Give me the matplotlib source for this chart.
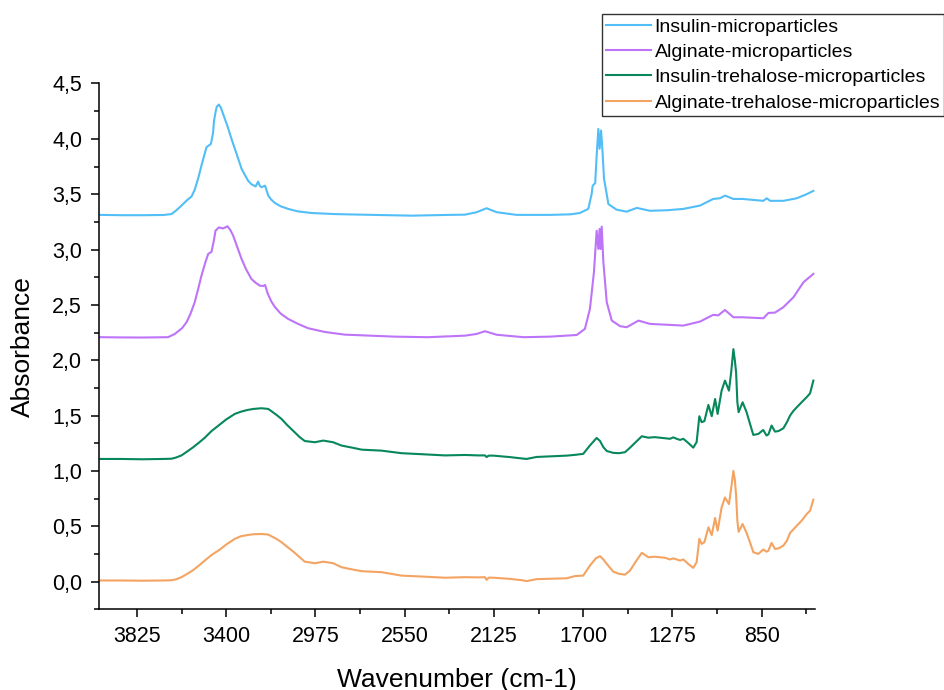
import matplotlib
matplotlib.use("Agg")
import matplotlib.pyplot as plt
from matplotlib.ticker import MultipleLocator, FuncFormatter

plt.rcParams["font.family"] = ["Liberation Sans", "DejaVu Sans"]

# FTIR spectra, stacked with a fixed vertical offset per sample
labels = [
    "Insulin-microparticles",
    "Alginate-microparticles",
    "Insulin-trehalose-microparticles",
    "Alginate-trehalose-microparticles",
]
colors = ["#52BEF8", "#BD74F8", "#07875A", "#F4A462"]

wn_ins = [4000, 3900, 3800, 3700, 3661, 3640, 3613, 3590, 3565, 3550, 3534, 3515, 3494, 3473,
          3463, 3458, 3450, 3445, 3435, 3425, 3415, 3395, 3375, 3350, 3327, 3310, 3296, 3280,
          3260, 3248, 3240, 3232, 3215, 3200, 3185, 3168, 3140, 3105, 3060, 2994, 2880,
          2755, 2517, 2335, 2263, 2208, 2160, 2112, 2017, 1858, 1760, 1716, 1676, 1660,
          1655, 1643, 1636, 1628, 1622, 1615, 1609, 1601, 1580, 1541, 1493, 1445, 1382,
          1300, 1223, 1144, 1081, 1049, 1025, 985, 942, 842, 826, 810, 747, 683, 636, 604]
ab_ins = [3.313, 3.310, 3.310, 3.312, 3.320, 3.350, 3.397, 3.440, 3.480, 3.540, 3.640, 3.780,
          3.924, 3.954, 4.050, 4.165, 4.250, 4.290, 4.310, 4.280, 4.225, 4.120, 4.000, 3.860,
          3.730, 3.670, 3.622, 3.590, 3.570, 3.613, 3.575, 3.563, 3.577, 3.487, 3.450, 3.420,
          3.390, 3.367, 3.345, 3.330, 3.320, 3.315, 3.306, 3.313, 3.315, 3.337, 3.373, 3.337,
          3.313, 3.313, 3.318, 3.330, 3.367, 3.500, 3.577, 3.600, 3.850, 4.090, 3.910, 4.075,
          3.910, 3.640, 3.410, 3.360, 3.342, 3.376, 3.350, 3.355, 3.367, 3.397, 3.457, 3.463,
          3.487, 3.457, 3.457, 3.440, 3.463, 3.440, 3.440, 3.463, 3.500, 3.530]

wn_alg = [4000, 3900, 3800, 3677, 3645, 3610, 3589, 3570, 3550, 3534, 3518, 3500, 3486, 3470,
          3460, 3451, 3435, 3415, 3394, 3380, 3367, 3347, 3327, 3305, 3280, 3260, 3240, 3224,
          3215, 3202, 3185, 3168, 3140, 3105, 3060, 3010, 2930, 2835, 2597, 2438, 2263,
          2208, 2168, 2112, 1985, 1858, 1731, 1692, 1668, 1649, 1636, 1628, 1622, 1617, 1612,
          1604, 1588, 1564, 1524, 1493, 1437, 1382, 1223, 1144, 1081, 1057, 1025, 985, 942,
          842, 818, 787, 747, 699, 651, 604]
ab_alg = [2.208, 2.206, 2.205, 2.208, 2.237, 2.290, 2.343, 2.420, 2.524, 2.640, 2.764, 2.880,
          2.960, 2.980, 3.070, 3.170, 3.200, 3.190, 3.210, 3.175, 3.126, 3.020, 2.915, 2.820,
          2.734, 2.700, 2.674, 2.670, 2.680, 2.600, 2.530, 2.480, 2.420, 2.373, 2.330, 2.289,
          2.255, 2.231, 2.213, 2.208, 2.222, 2.237, 2.262, 2.230, 2.208, 2.213, 2.228, 2.283,
          2.464, 2.795, 3.170, 3.005, 3.186, 3.005, 3.207, 2.885, 2.524, 2.358, 2.307, 2.298,
          2.358, 2.328, 2.313, 2.349, 2.410, 2.405, 2.454, 2.388, 2.388, 2.379, 2.427, 2.430,
          2.479, 2.569, 2.705, 2.780]

wn_ins_tre = [4000, 3900, 3800, 3700, 3661, 3640, 3613, 3590, 3560, 3530, 3502, 3470, 3430,
              3400, 3359, 3330, 3300, 3270, 3232, 3200, 3185, 3160, 3137, 3110, 3080, 3050,
              3026, 2978, 2938, 2891, 2851, 2800, 2755, 2660, 2565, 2460, 2359, 2263, 2200,
              2168, 2160, 2150, 2128, 2050, 1990, 1970, 1922, 1850, 1779, 1739, 1700, 1668,
              1636, 1620, 1604, 1588, 1557, 1530, 1501, 1477, 1450, 1421, 1390, 1360, 1334,
              1310, 1287, 1271, 1255, 1239, 1223, 1200, 1176, 1160, 1147, 1136, 1123, 1104,
              1088, 1072, 1060, 1041, 1025, 1006, 995, 985, 978, 972, 966, 960, 941, 922, 905,
              890, 866, 843, 827, 818, 803, 787, 770, 747, 730, 715, 700, 683, 660, 636, 620,
              604]
ab_ins_tre = [1.108, 1.108, 1.105, 1.108, 1.110, 1.120, 1.140, 1.170, 1.210, 1.255, 1.300,
              1.360, 1.420, 1.465, 1.515, 1.535, 1.550, 1.560, 1.566, 1.560, 1.540, 1.505,
              1.470, 1.415, 1.360, 1.305, 1.270, 1.259, 1.274, 1.259, 1.229, 1.210, 1.192,
              1.183, 1.160, 1.150, 1.140, 1.144, 1.140, 1.140, 1.125, 1.138, 1.138, 1.125,
              1.112, 1.108, 1.126, 1.132, 1.138, 1.145, 1.154, 1.230, 1.298, 1.270, 1.214,
              1.180, 1.163, 1.160, 1.169, 1.210, 1.260, 1.313, 1.300, 1.305, 1.300, 1.295,
              1.290, 1.303, 1.290, 1.280, 1.290, 1.253, 1.210, 1.260, 1.494, 1.440, 1.450,
              1.596, 1.494, 1.650, 1.515, 1.725, 1.816, 1.725, 1.900, 2.100, 2.000, 1.890,
              1.620, 1.530, 1.620, 1.530, 1.420, 1.325, 1.334, 1.370, 1.320, 1.330, 1.410,
              1.355, 1.360, 1.385, 1.440, 1.500, 1.540, 1.575, 1.620, 1.666, 1.700, 1.816]

wn_alg_tre = [4000, 3900, 3800, 3700, 3661, 3640, 3613, 3590, 3560, 3530, 3502, 3470, 3430,
              3400, 3359, 3330, 3300, 3270, 3232, 3200, 3185, 3160, 3137, 3110, 3080, 3050,
              3026, 2978, 2938, 2891, 2851, 2800, 2755, 2660, 2565, 2460, 2359, 2263, 2200,
              2168, 2160, 2150, 2128, 2050, 1990, 1970, 1922, 1850, 1779, 1739, 1700, 1668,
              1640, 1620, 1604, 1588, 1557, 1530, 1501, 1477, 1450, 1421, 1390, 1360, 1334,
              1310, 1287, 1271, 1255, 1239, 1223, 1200, 1176, 1160, 1147, 1136, 1123, 1104,
              1088, 1072, 1060, 1041, 1025, 1006, 995, 985, 978, 972, 966, 960, 941, 922, 905,
              890, 866, 843, 827, 818, 803, 787, 770, 747, 730, 715, 700, 683, 660, 636, 620,
              604]
ab_alg_tre = [0.010, 0.010, 0.008, 0.010, 0.012, 0.020, 0.040, 0.065, 0.100, 0.145, 0.190,
              0.240, 0.290, 0.335, 0.386, 0.410, 0.420, 0.428, 0.430, 0.425, 0.410, 0.385,
              0.356, 0.315, 0.270, 0.220, 0.180, 0.166, 0.180, 0.166, 0.130, 0.110, 0.094,
              0.085, 0.054, 0.045, 0.035, 0.040, 0.038, 0.040, 0.015, 0.036, 0.035, 0.025,
              0.012, 0.004, 0.022, 0.026, 0.030, 0.050, 0.054, 0.145, 0.210, 0.230, 0.200,
              0.160, 0.090, 0.070, 0.063, 0.100, 0.180, 0.260, 0.220, 0.225, 0.220, 0.215,
              0.200, 0.210, 0.200, 0.190, 0.200, 0.160, 0.124, 0.175, 0.386, 0.340, 0.356,
              0.490, 0.420, 0.575, 0.460, 0.670, 0.760, 0.700, 0.850, 1.000, 0.920, 0.780,
              0.550, 0.450, 0.520, 0.440, 0.350, 0.265, 0.250, 0.290, 0.270, 0.280, 0.350,
              0.295, 0.300, 0.325, 0.370, 0.440, 0.470, 0.505, 0.550, 0.610, 0.640, 0.740]

spectra = [(wn_ins, ab_ins), (wn_alg, ab_alg), (wn_ins_tre, ab_ins_tre), (wn_alg_tre, ab_alg_tre)]

fig = plt.figure(figsize=(9.45, 6.9), dpi=100)
ax = fig.add_axes([0.1045, 0.117, 0.758, 0.762])

for (x, y), c, lab in zip(spectra, colors, labels):
    ax.plot(x, y, color=c, lw=1.5, label=lab, solid_joinstyle="round")

ax.set_xlim(4007, 596)
ax.set_ylim(-0.25, 4.5)
ax.xaxis.set_major_locator(MultipleLocator(425))
ax.xaxis.set_minor_locator(MultipleLocator(212.5))
ax.yaxis.set_major_locator(MultipleLocator(0.5))
ax.yaxis.set_minor_locator(MultipleLocator(0.25))
ax.yaxis.set_major_formatter(FuncFormatter(lambda v, _: f"{v:.1f}".replace(".", ",")))
ax.xaxis.set_major_formatter(FuncFormatter(lambda v, _: f"{v:.0f}"))

for s in ["top", "right"]:
    ax.spines[s].set_visible(False)
for s in ["left", "bottom"]:
    ax.spines[s].set_linewidth(1.1)
ax.tick_params(which="major", direction="out", length=6, width=1.1, labelsize=15.5, pad=6)
ax.tick_params(which="minor", direction="out", length=3.5, width=1.1)

ax.set_xlabel("Wavenumber (cm-1)", fontsize=19, labelpad=15)
ax.set_ylabel("Absorbance", fontsize=19, labelpad=12)

leg = ax.legend(loc="upper right", bbox_to_anchor=(944 / 945, 1 - 14 / 690),
                bbox_transform=fig.transFigure, fontsize=14, frameon=True, fancybox=False,
                edgecolor="black", handlelength=2.3, handletextpad=0.2, labelspacing=0.4,
                borderpad=0.2, borderaxespad=0)
leg.get_frame().set_linewidth(1.0)

fig.savefig("out.png", dpi=100)
